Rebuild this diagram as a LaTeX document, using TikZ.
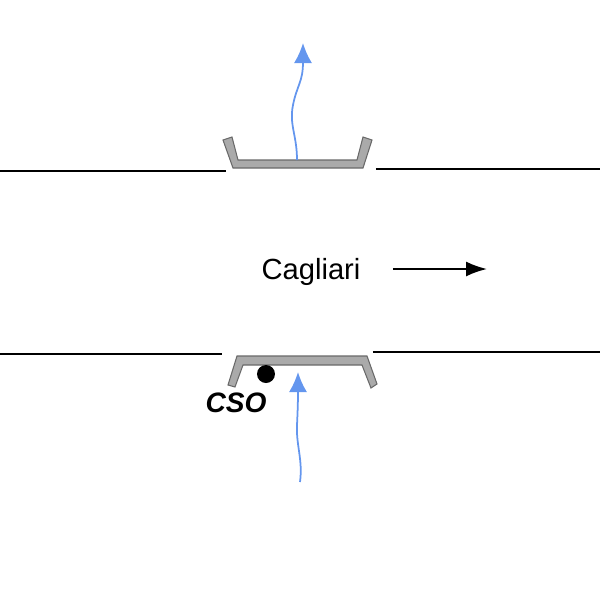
\documentclass[tikz,border=0pt]{standalone}
\usepackage{fontspec}
\setmainfont{Liberation Sans}
\usetikzlibrary{arrows.meta, positioning}

\definecolor{flowblue}{RGB}{100,150,238}
\definecolor{trayfill}{RGB}{170,170,170}
\definecolor{trayedge}{RGB}{105,105,105}

\begin{document}
\begin{tikzpicture}[x=0.02cm, y=-0.02cm,
shore/.style={line width=1.1pt, black},
tray/.style={fill=trayfill, draw=trayedge, line width=0.6pt, line join=miter},
flow/.style={flowblue, line width=1pt, -{Latex[length=0.4cm, width=0.36cm]}},
label/.style={inner sep=0pt, anchor=base, font=\fontsize{16.6pt}{19pt}\selectfont}]
    \useasboundingbox (0,0) rectangle (600,600);

    % banks
    \draw[shore] (0,171) -- (226,171);
    \draw[shore] (376,169) -- (600,169);
    \draw[shore] (0,354) -- (222,354);
    \draw[shore] (373,352) -- (600,352);

    % trays
    \draw[tray] (223,140) -- (232,137) -- (238,160) -- (357,160) -- (363,137)
        -- (372,140) -- (363,168) -- (233,168) -- cycle;
    \draw[tray] (237,356) -- (367,356) -- (377,384) -- (371,388) -- (362,365)
        -- (243,365) -- (235,387) -- (228,385) -- cycle;

    % flows
    \coordinate (topfoot) at (297,160);
    \coordinate (toptip) at (303,43);
    \coordinate (lowfoot) at (300,482);
    \coordinate (lowtip) at (298,372);
    \draw[flow] (topfoot) .. controls (297,135) and (289,125) .. (293,105)
        .. controls (297,85) and (303,82) .. (toptip);
    \draw[flow] (lowfoot) .. controls (303,460) and (296,445) .. (297,425)
        .. controls (298,405) and (298,395) .. (lowtip);

    % outlet
    \fill (266,374) circle (9);
    \node[label, font=\fontsize{16pt}{19pt}\selectfont\bfseries\itshape] (cso) at (236,412) {CSO};

    % direction
    \node[label] (cagliari) at (311,279) {Cagliari};
    \coordinate (dirstart) at (393,269);
    \coordinate (dirend) at (487,269);
    \draw[line width=1.1pt, -{Latex[length=0.42cm, width=0.3cm]}] (dirstart) -- (dirend);
\end{tikzpicture}
\end{document}
